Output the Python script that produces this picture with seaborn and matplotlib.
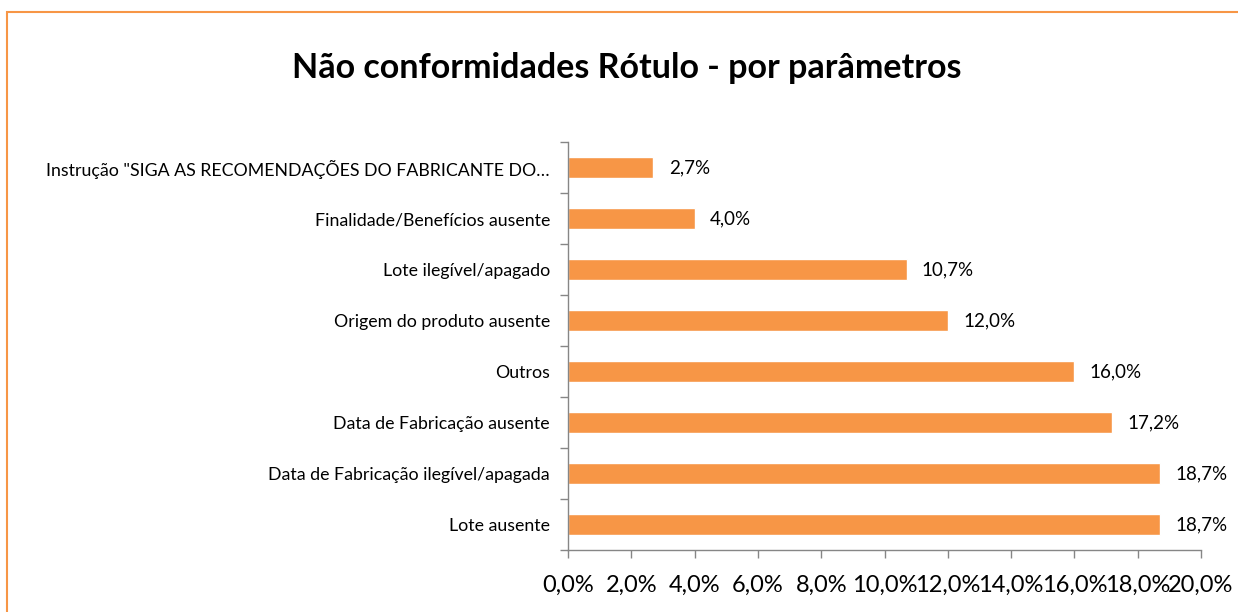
import matplotlib
matplotlib.use("Agg")
import matplotlib.pyplot as plt
import seaborn as sns
import pandas as pd
import numpy as np
from matplotlib.patches import Rectangle
from matplotlib.ticker import FixedLocator

categories = [
    "Instrução \"SIGA AS RECOMENDAÇÕES DO FABRICANTE DO…",
    "Finalidade/Benefícios ausente",
    "Lote ilegível/apagado",
    "Origem do produto ausente",
    "Outros",
    "Data de Fabricação ausente",
    "Data de Fabricação ilegível/apagada",
    "Lote ausente",
]
values = [2.7, 4.0, 10.7, 12.0, 16.0, 17.2, 18.7, 18.7]
x_ticks = [0, 2, 4, 6, 8, 10, 12, 14, 16, 18, 20]
title = "Não conformidades Rótulo - por parâmetros"

sns.set_theme(style="white")
plt.rcParams['font.family'] = ['Lato', 'DejaVu Sans']
plt.rcParams['text.color'] = 'black'
plt.rcParams['xtick.color'] = 'black'
plt.rcParams['ytick.color'] = 'black'

df = pd.DataFrame({"cat": categories, "val": values})

fig = plt.figure(figsize=(12.38, 6.12), dpi=100)
ax = fig.add_axes([568/1238, 1-550/612, (1201-568)/1238, (550-142)/612])

sns.barplot(data=df, x="val", y="cat", orient="h", color="#F79646",
            width=0.4, ax=ax, saturation=1)

ax.set_xlim(0, 20)
ax.set_ylim(len(categories)-0.5, -0.5)
ax.set_xlabel("")
ax.set_ylabel("")
ax.set_xticks(x_ticks)
ax.set_xticklabels([f"{t:.1f}%".replace(".", ",") for t in x_ticks], fontsize=17)
ax.tick_params(axis="y", labelsize=12.8, length=0, pad=13, labelcolor="black")
ax.yaxis.set_minor_locator(FixedLocator(np.arange(-0.5, len(categories), 1.0)))
ax.tick_params(axis="y", which="minor", length=6, color="#868686", width=1, left=True)
ax.tick_params(axis="x", length=6, color="#868686", width=1, bottom=True, pad=12,
               labelcolor="black")

for s in ["top", "right"]:
    ax.spines[s].set_visible(False)
for s in ["left", "bottom"]:
    ax.spines[s].set_color("#868686")
    ax.spines[s].set_linewidth(1)

for c in ax.containers:
    ax.bar_label(c, labels=[f"{v:.1f}%".replace(".", ",") for v in values],
                 padding=11, fontsize=13.5, color="black")

fig.text(627/1238, 1-68/612, title, ha="center", va="center",
         fontsize=24.5, fontweight="bold", color="black")

fig.patches.append(Rectangle((7/1238, -0.5), 2, 0.5 + (1-12/612), transform=fig.transFigure,
                             fill=False, edgecolor="#F79646", linewidth=1.5, clip_on=False))

fig.savefig("out.png", dpi=100, facecolor="white")
